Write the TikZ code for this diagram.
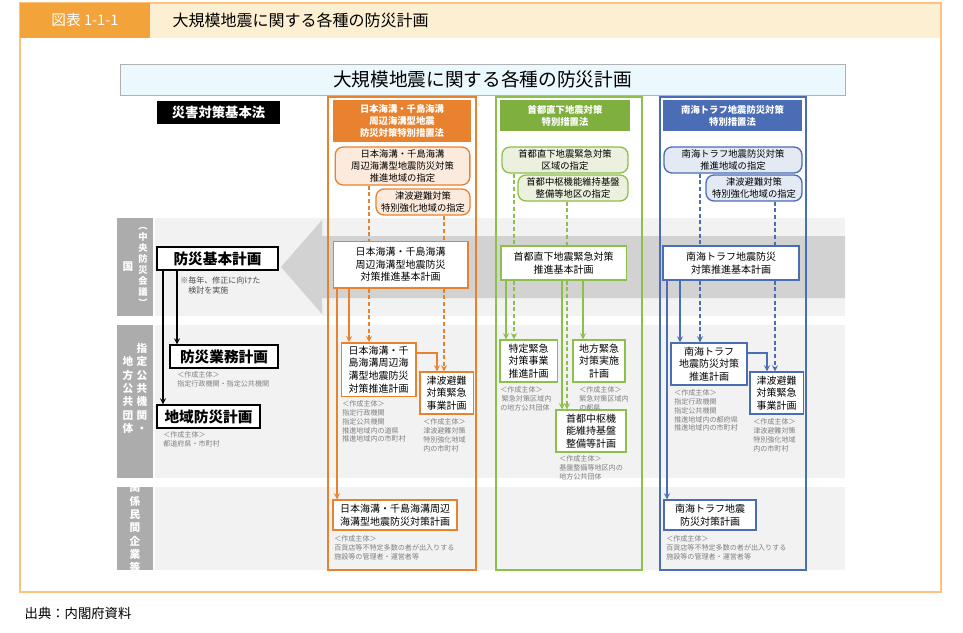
\documentclass[tikz,border=0pt]{standalone}
\usepackage{fontspec}
\setmainfont{Noto Sans CJK JP}
\usepackage{tikz}
\usetikzlibrary{positioning}
\definecolor{ocol}{HTML}{E8822F}
\definecolor{ofil}{HTML}{FCEBDC}
\definecolor{gcol}{HTML}{8DBF4B}
\definecolor{ghd}{HTML}{7FAF3F}
\definecolor{gfil}{HTML}{EBF1DE}
\definecolor{bcol}{HTML}{4A6DB5}
\definecolor{bfil}{HTML}{E4EAF4}
\definecolor{band}{HTML}{F2F2F2}
\definecolor{tab}{HTML}{F2A33A}
\definecolor{beige}{HTML}{FCEFD2}
\tikzset{hd/.style={fill=#1,text=white,align=center,inner sep=0,font=\fontsize{7}{9}\selectfont\bfseries},
  pbox/.style={draw=#1,fill=white,line width=1pt,align=center,inner sep=0,font=\fontsize{7.5}{9.5}\selectfont},
  rbox/.style={draw=#1,rounded corners=6pt,line width=1pt,align=center,inner sep=0,font=\fontsize{7}{9}\selectfont},
  lab/.style={anchor=north west,align=left,text=gray,inner sep=0,font=\fontsize{5.3}{6.7}\selectfont},
  lbox/.style={draw,fill=white,line width=1.3pt,inner sep=0,font=\fontsize{11}{13}\selectfont\bfseries},
  rowl/.style={text=white,align=center,inner sep=0,font=\fontsize{8}{10}\selectfont\bfseries},
  arr/.style={->,draw=#1,line width=1pt},
  dsh/.style={draw=#1,line width=1pt,dash pattern=on 3pt off 2pt}}
\begin{document}
\begin{tikzpicture}[>=stealth,x=0.75pt,y=-0.75pt]
    \useasboundingbox (0,0) rectangle (963,632);
    % frame and title
    \fill[beige] (20,3) rectangle (941,38);
    \draw[beige!60!orange,line width=1pt] (20,3) rectangle (941,592);
    \fill[tab] (20,3) rectangle (150,38);
    \node[text=white,font=\fontsize{11}{13}\selectfont] (fig) at (85,20) {図表 1-1-1};
    \node[anchor=west,font=\fontsize{12}{14}\selectfont] (ttl) at (168,20) {大規模地震に関する各種の防災計画};
    \node[draw=gray!60,fill=cyan!8,minimum width=543.75pt,minimum height=23.25pt,font=\fontsize{14}{16}\selectfont] (banner) at (482.5,79.5) {大規模地震に関する各種の防災計画};
    \node[fill=black,text=white,minimum width=92pt,minimum height=17pt,inner sep=0,font=\fontsize{10}{12}\selectfont\bfseries] (law) at (218.5,112.5) {災害対策基本法};

    % rows and big arrow
    \fill[band] (155,218) rectangle (845,316);
    \fill[band] (155,325) rectangle (845,478);
    \fill[band] (155,487) rectangle (845,570);
    \fill[gray!35] (845,236) -- (322,236) -- (322,220) -- (281,267) -- (322,314) -- (322,298) -- (845,298) -- cycle;
    \fill[gray!65] (117,218) rectangle (153,316);
    \fill[gray!65] (117,325) rectangle (153,478);
    \fill[gray!65] (117,487) rectangle (153,570);
    \node[rowl] (kuni) at (128,267) {国};
    \node[rowl,font=\fontsize{7}{8.3}\selectfont\bfseries] (chuo) at (143,267) {︵\\中\\央\\防\\災\\会\\議\\︶};
    \node[rowl] (shitei) at (142,388) {指\\定\\公\\共\\機\\関\\・};
    \node[rowl] (chiho) at (128,395) {地\\方\\公\\共\\団\\体};
    \node[rowl] (minkan) at (135,528) {関\\係\\民\\間\\企\\業\\等};

    % national plans
    \node[lbox,minimum width=91pt,minimum height=17pt] (kihon) at (217.5,258.5) {防災基本計画};
    \node[lab,text=black!70,font=\fontsize{6}{8}\selectfont] (note) at (180,276) {※毎年、修正に向けた\\\hspace{1em}検討を実施};
    \node[lbox,minimum width=81pt,minimum height=17pt] (gyomu) at (224,356.5) {防災業務計画};
    \node[lab] (gyomul) at (177,371) {＜作成主体＞\\指定行政機関・指定公共機関};
    \node[lbox,minimum width=77pt,minimum height=17pt] (chiiki) at (208.5,416.5) {地域防災計画};
    \node[lab] (chiikil) at (163,431) {＜作成主体＞\\都道府県・市町村};
    \draw[arr=black] (163,0 |- kihon.south) -- (163,0 |- chiiki.north);
    \draw[arr=black] (177,0 |- kihon.south) -- (177,0 |- gyomu.north);

    % Japan Trench column
    \draw[ocol,line width=1pt] (328,97) rectangle (476,570);
    \node[hd=ocol,minimum width=103.5pt,minimum height=31.5pt] (ohead) at (402,121) {日本海溝・千島海溝\\周辺海溝型地震\\防災対策特別措置法};
    \node[rbox=ocol,fill=ofil,minimum width=101pt,minimum height=28.5pt] (o1) at (402.5,166) {日本海溝・千島海溝\\周辺海溝型地震防災対策\\推進地域の指定};
    \node[rbox=ocol,fill=ofil,minimum width=70.5pt,minimum height=19.5pt] (o2) at (423,202) {津波避難対策\\特別強化地域の指定};
    \node[pbox=ocol,minimum width=101pt,minimum height=35pt] (oplan) at (400.5,264.5) {日本海溝・千島海溝\\周辺海溝型地震防災\\対策推進基本計画};
    \node[pbox=ocol,minimum width=56pt,minimum height=40pt] (osuis) at (378.5,369.5) {日本海溝・千\\島海溝周辺海\\溝型地震防災\\対策推進計画};
    \node[pbox=ocol,minimum width=40pt,minimum height=31.5pt] (otsu) at (446.5,393) {津波避難\\対策緊急\\事業計画};
    \node[pbox=ocol,minimum width=93pt,minimum height=22.5pt] (omin) at (395,515) {日本海溝・千島海溝周辺\\海溝型地震防災対策計画};
    \node[lab] (osuisl) at (342,400) {＜作成主体＞\\指定行政機関\\指定公共機関\\推進地域内の道県\\推進地域内の市町村};
    \node[lab] (otsul) at (423,418) {＜作成主体＞\\津波避難対策\\特別強化地域\\内の市町村};
    \node[lab] (ominl) at (334,535) {＜作成主体＞\\百貨店等不特定多数の者が出入りする\\施設等の管理者・運営者等};
    \draw[dsh=ocol] (369,0 |- o1.south) -- (369,0 |- oplan.north);
    \draw[dsh=ocol,->] (369,0 |- oplan.south) -- (369,0 |- osuis.north);
    \draw[dsh=ocol] (444,0 |- o2.south) -- (444,0 |- oplan.north);
    \draw[dsh=ocol,->] (444,0 |- oplan.south) -- (444,0 |- otsu.north);
    \draw[arr=ocol] (337,0 |- oplan.south) -- (337,0 |- omin.north);
    \draw[arr=ocol] (349,0 |- oplan.south) -- (349,0 |- osuis.north);
    \draw[arr=ocol] (osuis.east |- 0,353) -| (437,0 |- otsu.north);

    % Tokyo column
    \draw[gcol,line width=1pt] (496,97) rectangle (642,570);
    \node[hd=ghd,minimum width=97.5pt,minimum height=23pt] (ghead) at (565,115.5) {首都直下地震対策\\特別措置法};
    \node[rbox=gcol,fill=gfil,minimum width=94.5pt,minimum height=19.5pt] (g1) at (565,160) {首都直下地震緊急対策\\区域の指定};
    \node[rbox=gcol,fill=gfil,minimum width=82.5pt,minimum height=19.5pt] (g2) at (573,188) {首都中枢機能維持基盤\\整備等地区の指定};
    \node[pbox=gcol,minimum width=94pt,minimum height=25.5pt] (gplan) at (563.5,263) {首都直下地震緊急対策\\推進基本計画};
    \node[pbox=gcol,minimum width=43pt,minimum height=31.5pt] (gtok) at (528.5,361) {特定緊急\\対策事業\\推進計画};
    \node[pbox=gcol,minimum width=39pt,minimum height=31.5pt] (gchi) at (599,361) {地方緊急\\対策実施\\計画};
    \node[pbox=gcol,minimum width=52.5pt,minimum height=31.5pt] (gshu) at (591,431) {首都中枢機\\能維持基盤\\整備等計画};
    \node[lab] (gtokl) at (500,386) {＜作成主体＞\\\ 緊急対策区域内\\の地方公共団体};
    \node[lab] (gchil) at (579,386) {＜作成主体＞\\緊急対策区域内\\の都県};
    \node[lab] (gshul) at (559,455) {＜作成主体＞\\基盤整備等地区内の\\地方公共団体};
    \draw[dsh=gcol] (514,0 |- g1.south) -- (514,0 |- gplan.north);
    \draw[dsh=gcol,->] (514,0 |- gplan.south) -- (514,0 |- gtok.north);
    \draw[dsh=gcol] (567,0 |- g2.south) -- (567,0 |- gplan.north);
    \draw[dsh=gcol,->] (567,0 |- gplan.south) -- (567,0 |- gshu.north);
    \draw[arr=gcol] (506,0 |- gplan.south) -- (506,0 |- gtok.north);
    \draw[arr=gcol] (562,0 |- gplan.south) -- (562,0 |- gshu.north);
    \draw[arr=gcol] (583,0 |- gplan.south) -- (583,0 |- gchi.north);

    % Nankai column
    \draw[bcol,line width=1pt] (660,97) rectangle (806,570);
    \node[hd=bcol,minimum width=104pt,minimum height=23pt] (bhead) at (732.5,115.5) {南海トラフ地震防災対策\\特別措置法};
    \node[rbox=bcol,fill=bfil,minimum width=103.5pt,minimum height=19.5pt] (b1) at (733,160) {南海トラフ地震防災対策\\推進地域の指定};
    \node[rbox=bcol,fill=bfil,minimum width=72pt,minimum height=19.5pt] (b2) at (754,188) {津波避難対策\\特別強化地域の指定};
    \node[pbox=bcol,minimum width=102pt,minimum height=25.5pt] (bplan) at (731,263) {南海トラフ地震防災\\対策推進基本計画};
    \node[pbox=bcol,minimum width=57pt,minimum height=31.5pt] (bsuis) at (709,364) {南海トラフ\\地震防災対策\\推進計画};
    \node[pbox=bcol,minimum width=40pt,minimum height=31.5pt] (btsu) at (776.5,393) {津波避難\\対策緊急\\事業計画};
    \node[pbox=bcol,minimum width=69pt,minimum height=22.5pt] (bmin) at (710,515) {南海トラフ地震\\防災対策計画};
    \node[lab] (bsuisl) at (674,389) {＜作成主体＞\\指定行政機関\\指定公共機関\\推進地域内の都府県\\推進地域内の市町村};
    \node[lab] (btsul) at (753,418) {＜作成主体＞\\津波避難対策\\特別強化地域\\内の市町村};
    \node[lab] (bminl) at (666,535) {＜作成主体＞\\百貨店等不特定多数の者が出入りする\\施設等の管理者・運営者等};
    \draw[dsh=bcol] (700,0 |- b1.south) -- (700,0 |- bplan.north);
    \draw[dsh=bcol,->] (700,0 |- bplan.south) -- (700,0 |- bsuis.north);
    \draw[dsh=bcol] (775,0 |- b2.south) -- (775,0 |- bplan.north);
    \draw[dsh=bcol,->] (775,0 |- bplan.south) -- (775,0 |- btsu.north);
    \draw[arr=bcol] (667,0 |- bplan.south) -- (667,0 |- bmin.north);
    \draw[arr=bcol] (680,0 |- bplan.south) -- (680,0 |- bsuis.north);
    \draw[arr=bcol] (bsuis.east |- 0,353) -| (767,0 |- btsu.north);

    \node[anchor=west,font=\fontsize{10}{12}\selectfont] (src) at (20,613) {出典：内閣府資料};
\end{tikzpicture}
\end{document}
